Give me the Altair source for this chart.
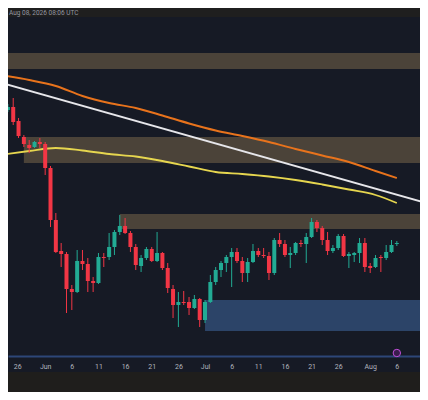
import altair as alt
import pandas as pd
import numpy as np

# ---------------- data ----------------
header_text = "Aug 08, 2026 08:06 UTC"

dates = pd.date_range("2026-05-25", "2026-08-06", freq="D").strftime("%Y-%m-%d").tolist()

open_ = [290, 293, 279, 263, 255, 253, 258, 256, 232, 180, 149, 146, 111, 108, 139, 136,
         119, 117, 143, 143, 153, 168, 174, 167, 153, 134, 142, 151, 139, 147, 132, 111,
         95, 98, 98, 92, 101, 80, 98, 118, 130, 137, 143, 148, 139, 127, 138, 149,
         145, 144, 127, 160, 156, 145, 147, 157, 156, 163, 178, 172, 160, 149, 152, 164,
         144, 145, 147, 157, 134, 133, 143, 142, 148, 156]
high = [296, 302, 282, 265, 260, 259, 262, 258, 234, 187, 157, 148, 115, 150, 150, 142,
        123, 147, 147, 167, 170, 185, 182, 169, 156, 145, 153, 153, 168, 148, 137, 115,
        108, 109, 103, 105, 102, 100, 125, 133, 139, 145, 152, 152, 143, 142, 156, 152,
        152, 148, 162, 167, 160, 153, 158, 160, 167, 182, 180, 174, 168, 155, 166, 166,
        148, 148, 162, 162, 137, 145, 145, 155, 160, 159]
low = [288, 275, 262, 253, 247, 252, 252, 225, 173, 147, 133, 87, 90, 107, 130, 108,
       108, 116, 133, 140, 145, 165, 166, 148, 130, 128, 140, 138, 138, 130, 107, 82,
       73, 95, 85, 91, 73, 77, 97, 115, 123, 128, 113, 137, 118, 118, 137, 143,
       142, 120, 125, 153, 143, 132, 145, 153, 137, 162, 168, 155, 145, 147, 150, 143,
       132, 138, 137, 128, 127, 132, 128, 140, 147, 154]
close = [293, 278, 264, 256, 252, 258, 256, 232, 180, 148, 146, 111, 108, 139, 136, 119,
         117, 143, 142, 153, 168, 174, 167, 153, 135, 142, 151, 139, 147, 132, 112, 95,
         98, 97, 92, 101, 80, 98, 118, 130, 137, 143, 148, 139, 127, 138, 149, 145,
         144, 127, 160, 156, 145, 147, 157, 156, 163, 178, 172, 160, 149, 152, 164, 144,
         146, 147, 157, 133, 132, 142, 142, 148, 155, 157]

# moving averages (sampled)
ma_dates = ["2026-05-24", "2026-05-29", "2026-06-03", "2026-06-08", "2026-06-13", "2026-06-18",
            "2026-06-23", "2026-06-28", "2026-07-03", "2026-07-08", "2026-07-13", "2026-07-18",
            "2026-07-23", "2026-07-28", "2026-08-02", "2026-08-06"]
ma_orange = [324.5, 320, 314, 304, 297, 292, 284.5, 276.5, 269.5, 264, 258, 251, 244.5, 238, 229, 222]
ma_yellow = [245.5, 249, 252, 249.5, 246, 243.5, 239, 233.5, 228, 226, 223.5, 220, 215.5, 210.5, 205, 197]

# trend line
trend_dates = ["2026-05-20", "2026-08-15"]
trend_vals = [322.8, 191.8]

# zones
zone_start = ["2026-05-20", "2026-05-28", "2026-06-15", "2026-07-01"]
zone_end = ["2026-08-15", "2026-08-15", "2026-08-15", "2026-08-15"]
zone_top = [347, 263, 186, 100]
zone_bot = [331, 237, 171, 69]
zone_kind = ["supply", "supply", "supply", "demand"]

# x axis ticks
tick_dates = ["2026-05-26", "2026-06-01", "2026-06-06", "2026-06-11", "2026-06-16", "2026-06-21",
              "2026-06-26", "2026-07-01", "2026-07-06", "2026-07-11", "2026-07-16", "2026-07-21",
              "2026-07-26", "2026-08-01", "2026-08-06", "2026-08-11"]

icon_date = ["2026-08-06"]
icon_val = [47]

# ---------------- build ----------------
def ms(s):
    return int(pd.Timestamp(s, tz="UTC").value // 10**6)

DAY = 86400000
jun1 = ms("2026-06-01")
x_domain = [jun1 - 6.04 * DAY, jun1 + 69.41 * DAY]
tick_ms = [ms(d) for d in tick_dates]

W, H = 412, 364
BG = "#161a25"
UP, DOWN = "#22ab94", "#f23645"

xscale = alt.Scale(type="utc", domain=x_domain)
yscale = alt.Scale(domain=[28, 392], nice=False, zero=False)

xaxis = alt.Axis(
    values=tick_ms,
    labelExpr="utcdate(datum.value) == 1 ? utcFormat(datum.value, '%b') : utcFormat(datum.value, '%-d')",
    title=None, grid=False, ticks=False, offset=-16,
    domainColor="#2d4678", domainWidth=2,
    labelColor="#b2b5be", labelFont="Roboto", labelFontSize=7,
    labelBaseline="middle", labelPadding=10,
    labelAlign=alt.condition(f"datum.value <= {tick_ms[0]}", alt.value("left"), alt.value("center")),
)

def X(field):
    return alt.X(field, type="temporal", scale=xscale, axis=xaxis)

candles = pd.DataFrame({"date": dates, "open": open_, "high": high, "low": low, "close": close})
candles["dir"] = np.where(candles["close"] >= candles["open"], "up", "down")
color = alt.Color("dir:N", scale=alt.Scale(domain=["up", "down"], range=[UP, DOWN]), legend=None)

zones = pd.DataFrame({"x0": zone_start, "x1": zone_end, "top": zone_top, "bot": zone_bot, "kind": zone_kind})
zone_layer = alt.Chart(zones).mark_rect(clip=True).encode(
    x=X("x0"), x2="x1",
    y=alt.Y("top:Q", scale=yscale, axis=None), y2="bot:Q",
    fill=alt.Fill("kind:N", scale=alt.Scale(domain=["supply", "demand"], range=["#4b4339", "#2c4468"]), legend=None),
)

trend = pd.DataFrame({"date": trend_dates, "v": trend_vals})
trend_layer = alt.Chart(trend).mark_line(color="#e6e6ea", strokeWidth=1.8, clip=True).encode(
    x=X("date"), y=alt.Y("v:Q", scale=yscale, axis=None))

ma = pd.DataFrame({"date": ma_dates, "orange": ma_orange, "yellow": ma_yellow})
orange_layer = alt.Chart(ma).mark_line(color="#e8731c", strokeWidth=2, interpolate="monotone", clip=True).encode(
    x=X("date"), y=alt.Y("orange:Q", scale=yscale, axis=None))
yellow_layer = alt.Chart(ma).mark_line(color="#e6d64f", strokeWidth=1.8, interpolate="monotone", clip=True).encode(
    x=X("date"), y=alt.Y("yellow:Q", scale=yscale, axis=None))

wick_layer = alt.Chart(candles).mark_rule(strokeWidth=1, clip=True).encode(
    x=X("date"), y=alt.Y("low:Q", scale=yscale, axis=None), y2="high:Q", color=color)
body_layer = alt.Chart(candles).mark_bar(size=4, clip=True).encode(
    x=X("date"), y=alt.Y("open:Q", scale=yscale, axis=None), y2="close:Q", color=color)

icon = pd.DataFrame({"date": icon_date, "v": icon_val})
icon_layer = alt.Chart(icon).mark_point(shape="circle", size=55, filled=True, fill="#3a1d4d",
                                        stroke="#c04fd9", strokeWidth=1, opacity=1, clip=True).encode(
    x=X("date"), y=alt.Y("v:Q", scale=yscale, axis=None))

one = pd.DataFrame({"a": [0]})
topbar = alt.Chart(one).mark_rect(color="#1f1f1f").encode(
    x=alt.value(0), x2=alt.value(W), y=alt.value(0), y2=alt.value(9))
toptext = alt.Chart(one).mark_text(align="left", baseline="middle", fontSize=6.5, font="Roboto",
                                   color="#9598a1").encode(
    x=alt.value(1), y=alt.value(4.8), text=alt.value(header_text))

chart = alt.layer(
    zone_layer, trend_layer, orange_layer, yellow_layer, wick_layer, body_layer, icon_layer, topbar, toptext
).resolve_scale(
    color="independent", fill="independent"
).properties(
    width=W, height=H,
    padding={"left": 0, "top": 0, "right": 0, "bottom": 20},
    autosize=alt.AutoSizeParams(type="none"),
    background="#1f1e1c",
).configure_view(fill=BG, stroke=None)

chart.save("out.html", embed_options={"renderer": "svg", "actions": False})
